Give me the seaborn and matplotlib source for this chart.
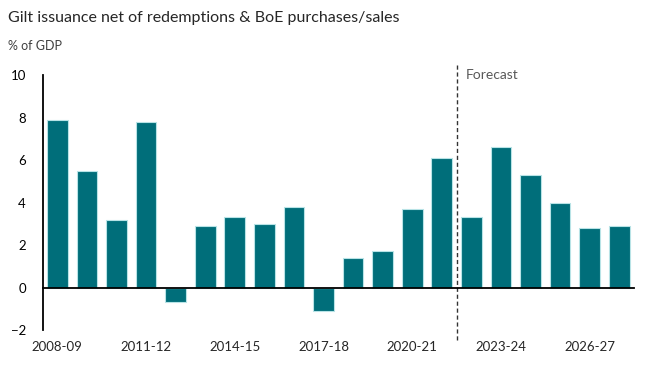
import numpy as np
import pandas as pd
import matplotlib
matplotlib.use('Agg')
import matplotlib.pyplot as plt
import seaborn as sns

# data (% of GDP)
years = ['2008-09', '2009-10', '2010-11', '2011-12', '2012-13', '2013-14',
         '2014-15', '2015-16', '2016-17', '2017-18', '2018-19', '2019-20',
         '2020-21', '2021-22', '2022-23', '2023-24', '2024-25', '2025-26',
         '2026-27', '2027-28']
values = [7.9, 5.5, 3.2, 7.8, -0.7, 2.9, 3.3, 3.0, 3.8, -1.1,
          1.4, 1.7, 3.7, 6.1, 3.3, 6.6, 5.3, 4.0, 2.8, 2.9]
shown_labels = ['2008-09', '2011-12', '2014-15', '2017-18', '2020-21',
                '2023-24', '2026-27']
first_forecast = '2022-23'

df = pd.DataFrame({'year': years, 'value': values})

sns.set_style('white')
plt.rcParams['font.family'] = ['Lato', 'DejaVu Sans']

fig = plt.figure(figsize=(6.55, 3.7), dpi=100)
ax = fig.add_axes([0.065, 0.108, 0.903, 0.689])

sns.barplot(data=df, x='year', y='value', color='#006E7A', saturation=1,
            width=0.7, edgecolor='#B8E3E6', linewidth=0.8, ax=ax)

n = len(years)
ax.set_xlim(-0.5, n - 0.5)
ax.set_ylim(-2, 10)
ax.set_yticks(range(-2, 11, 2))
ax.tick_params(axis='y', direction='in', length=3, width=1, labelsize=9.5,
               pad=12, colors='black')

# zero line with ticks between bars
ax.spines['bottom'].set_position(('data', 0))
ax.spines['bottom'].set_linewidth(1.3)
ax.set_xticks(np.arange(-0.5, n, 1), minor=True)
ax.set_xticks([])
ax.tick_params(axis='x', which='minor', direction='inout', length=7, width=1.2)
ax.spines['top'].set_visible(False)
ax.spines['right'].set_visible(False)
ax.spines['left'].set_linewidth(1.3)
ax.spines['left'].set_color('black')
ax.spines['bottom'].set_color('black')

# category labels along the bottom
sec = ax.secondary_xaxis('bottom')
sec.set_xticks([years.index(y) for y in shown_labels], shown_labels)
sec.tick_params(length=0, labelsize=9.5, pad=8)
sec.spines['bottom'].set_visible(False)

ax.set_xlabel('')
ax.set_ylabel('')

# forecast divider
fx = years.index(first_forecast) - 0.5
ax.axvline(fx, ymin=-0.04, ymax=1.04, color='#333333', linestyle=(0, (3, 2)),
           linewidth=1, clip_on=False)
ax.text(fx + 0.3, 10, 'Forecast', fontsize=10, color='#595959', va='center')

fig.text(0.012, 0.952, 'Gilt issuance net of redemptions & BoE purchases/sales',
         fontsize=11.5, color='#262626', va='center')
fig.text(0.012, 0.875, '% of GDP', fontsize=9, color='#404040', va='center')

fig.savefig('out.png', dpi=100)
